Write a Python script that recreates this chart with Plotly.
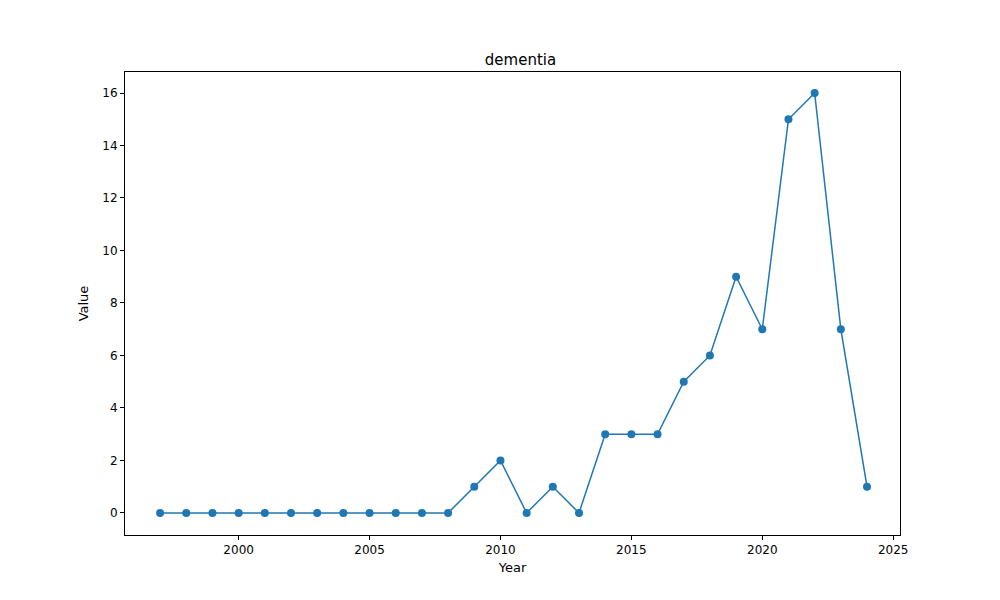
import plotly.graph_objects as go

years = list(range(1997, 2025))
values = [0, 0, 0, 0, 0, 0, 0, 0, 0, 0, 0, 0,
          1, 2, 0, 1, 0, 3, 3, 3, 5, 6, 9, 7, 15, 16, 7, 1]

fig = go.Figure(go.Scatter(
    x=years, y=values, mode="lines+markers",
    line=dict(color="#1f77b4", width=1.5),
    marker=dict(color="#1f77b4", size=8),
))

axis_style = dict(
    showline=True, linecolor="black", linewidth=1, mirror=True,
    ticks="outside", ticklen=4, tickcolor="black",
    showgrid=False, zeroline=False,
    tickfont=dict(size=12, color="black"),
)

fig.update_layout(
    width=1000, height=600,
    margin=dict(l=117, r=108, t=64, b=73),
    plot_bgcolor="white", paper_bgcolor="white",
    font=dict(family="DejaVu Sans", color="black"),
    title=dict(text="dementia", x=0.5125, xanchor="center", y=0.905, yanchor="bottom",
               font=dict(size=15)),
    showlegend=False,
    xaxis=dict(range=[1995.66, 2025.26], tickvals=[2000, 2005, 2010, 2015, 2020, 2025],
               title=dict(text="Year", font=dict(size=13), standoff=6), **axis_style),
    yaxis=dict(range=[-0.84, 16.8], tickvals=list(range(0, 17, 2)),
               title=dict(text="Value", font=dict(size=13), standoff=10), **axis_style),
)

fig.write_html("out.html")
